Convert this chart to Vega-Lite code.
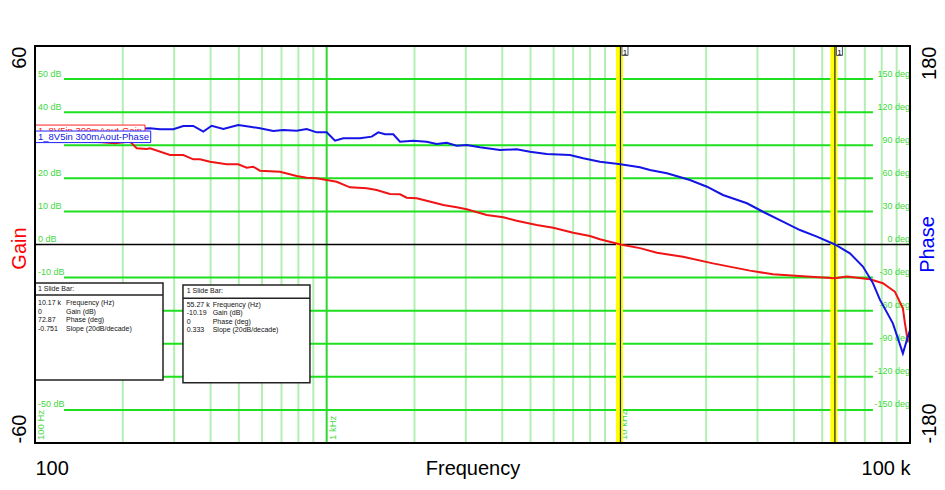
{
  "$schema": "https://vega.github.io/schema/vega-lite/v6.json",
  "width": 875,
  "height": 397,
  "autosize": "none",
  "padding": {"left": 35, "top": 46, "right": 35, "bottom": 47},
  "background": "white",
  "config": {
    "view": {"stroke": null},
    "font": "Liberation Sans",
    "axis": {"labelFont": "Liberation Sans", "titleFont": "Liberation Sans", "titleFontWeight": "normal", "labelColor": "black"}
  },
  "datasets": {
    "gain": [
      {"freq": 100, "gain": 31.8}, {"freq": 140, "gain": 31.3}, {"freq": 170, "gain": 30.9}, {"freq": 188.1, "gain": 30.6},
      {"freq": 211.7, "gain": 31.1}, {"freq": 223.2, "gain": 29.1}, {"freq": 241.5, "gain": 28.9}, {"freq": 247.9, "gain": 29.08},
      {"freq": 290.3, "gain": 27.05}, {"freq": 322.4, "gain": 27.05}, {"freq": 348.9, "gain": 25.75}, {"freq": 367.9, "gain": 25.75},
      {"freq": 398.1, "gain": 25.03}, {"freq": 454.1, "gain": 24.24}, {"freq": 497.6, "gain": 24.24}, {"freq": 531.8, "gain": 23.21},
      {"freq": 560.2, "gain": 23.52}, {"freq": 590.6, "gain": 22.31}, {"freq": 691.6, "gain": 22.0}, {"freq": 789, "gain": 20.71},
      {"freq": 854, "gain": 20.19}, {"freq": 924.1, "gain": 20.0}, {"freq": 1000, "gain": 19.5}, {"freq": 1082, "gain": 18.98},
      {"freq": 1202, "gain": 17.29}, {"freq": 1371, "gain": 16.99}, {"freq": 1484, "gain": 16.47}, {"freq": 1648, "gain": 15.26},
      {"freq": 1784, "gain": 15.17}, {"freq": 1881, "gain": 14.15}, {"freq": 2035, "gain": 13.96}, {"freq": 2202, "gain": 13.24},
      {"freq": 2511, "gain": 11.94}, {"freq": 2791, "gain": 11.24}, {"freq": 3020, "gain": 10.64}, {"freq": 3537, "gain": 8.92},
      {"freq": 4031, "gain": 8.22}, {"freq": 4481, "gain": 7.19}, {"freq": 5248, "gain": 5.89}, {"freq": 5981, "gain": 5.08},
      {"freq": 7004, "gain": 3.57}, {"freq": 7991, "gain": 2.57}, {"freq": 8647, "gain": 1.57}, {"freq": 10170, "gain": 0},
      {"freq": 11858, "gain": -1.1}, {"freq": 13562, "gain": -2.5}, {"freq": 16651, "gain": -3.7}, {"freq": 21101, "gain": -5.7},
      {"freq": 28262, "gain": -7.9}, {"freq": 33884, "gain": -9.0}, {"freq": 44310, "gain": -9.7}, {"freq": 55270, "gain": -10.19},
      {"freq": 60770, "gain": -9.7}, {"freq": 72880, "gain": -10.5}, {"freq": 80750, "gain": -11.7}, {"freq": 88800, "gain": -14.3},
      {"freq": 94540, "gain": -19.3}, {"freq": 96040, "gain": -23.7}, {"freq": 98360, "gain": -29.4}
    ],
    "phase": [
      {"freq": 100, "phase": 104}, {"freq": 120, "phase": 104.5}, {"freq": 142.7, "phase": 104.5}, {"freq": 162.7, "phase": 106.3},
      {"freq": 188.1, "phase": 106.3}, {"freq": 206.3, "phase": 104.5}, {"freq": 247.9, "phase": 105.4}, {"freq": 268.2, "phase": 104.5},
      {"freq": 298, "phase": 104.5}, {"freq": 322.4, "phase": 107.5}, {"freq": 348.9, "phase": 107.5}, {"freq": 377.6, "phase": 102.3},
      {"freq": 403.4, "phase": 107.7}, {"freq": 442.1, "phase": 104.7}, {"freq": 497.6, "phase": 108.4}, {"freq": 546, "phase": 106.8},
      {"freq": 590.6, "phase": 105.4}, {"freq": 656.1, "phase": 102.9}, {"freq": 709.9, "phase": 103.8}, {"freq": 789, "phase": 103.2},
      {"freq": 854, "phase": 104.7}, {"freq": 924.1, "phase": 101.7}, {"freq": 1000, "phase": 101.7}, {"freq": 1068, "phase": 94.1},
      {"freq": 1140, "phase": 96.3}, {"freq": 1301, "phase": 96.3}, {"freq": 1427, "phase": 97.8}, {"freq": 1503, "phase": 101.7},
      {"freq": 1585, "phase": 99.9}, {"freq": 1692, "phase": 99.9}, {"freq": 1784, "phase": 93.2}, {"freq": 1981, "phase": 94.1},
      {"freq": 2202, "phase": 93.2}, {"freq": 2383, "phase": 91.1}, {"freq": 2579, "phase": 92.3}, {"freq": 2791, "phase": 89.6},
      {"freq": 3020, "phase": 90.2}, {"freq": 3354, "phase": 88.1}, {"freq": 3928, "phase": 85.7}, {"freq": 4481, "phase": 86.3},
      {"freq": 4977, "phase": 84.2}, {"freq": 5679, "phase": 82.1}, {"freq": 6826, "phase": 81.2}, {"freq": 7579, "phase": 78.2},
      {"freq": 8647, "phase": 75.1}, {"freq": 10170, "phase": 72.87}, {"freq": 11858, "phase": 70.0}, {"freq": 12832, "phase": 67.6},
      {"freq": 14672, "phase": 64.6}, {"freq": 17602, "phase": 58.5}, {"freq": 20131, "phase": 52.4}, {"freq": 22839, "phase": 44.9},
      {"freq": 27606, "phase": 37.4}, {"freq": 31314, "phase": 29.7}, {"freq": 36664, "phase": 20.7}, {"freq": 41937, "phase": 13.1},
      {"freq": 47951, "phase": 7.1}, {"freq": 55270, "phase": 0}, {"freq": 62230, "phase": -8}, {"freq": 68960, "phase": -20},
      {"freq": 74620, "phase": -35}, {"freq": 78850, "phase": -50}, {"freq": 87360, "phase": -71.5}, {"freq": 94540, "phase": -98.7},
      {"freq": 97570, "phase": -86.6}, {"freq": 100000, "phase": -77.5}
    ],
    "grid": [
      {"gain": 50, "gainLabel": "50 dB", "phase": 150, "phaseLabel": "150 deg"},
      {"gain": 40, "gainLabel": "40 dB", "phase": 120, "phaseLabel": "120 deg"},
      {"gain": 30, "gainLabel": "30 dB", "phase": 90, "phaseLabel": "90 deg"},
      {"gain": 20, "gainLabel": "20 dB", "phase": 60, "phaseLabel": "60 deg"},
      {"gain": 10, "gainLabel": "10 dB", "phase": 30, "phaseLabel": "30 deg"},
      {"gain": 0, "gainLabel": "0 dB", "phase": 0, "phaseLabel": "0 deg"},
      {"gain": -10, "gainLabel": "-10 dB", "phase": -30, "phaseLabel": "-30 deg"},
      {"gain": -20, "gainLabel": "-20 dB", "phase": -60, "phaseLabel": "-60 deg"},
      {"gain": -30, "gainLabel": "-30 dB", "phase": -90, "phaseLabel": "-90 deg"},
      {"gain": -40, "gainLabel": "-40 dB", "phase": -120, "phaseLabel": "-120 deg"},
      {"gain": -50, "gainLabel": "-50 dB", "phase": -150, "phaseLabel": "-150 deg"}
    ],
    "vgrid": [
      {"freq": 100, "major": true}, {"freq": 200, "major": false}, {"freq": 300, "major": false}, {"freq": 400, "major": false},
      {"freq": 500, "major": false}, {"freq": 600, "major": false}, {"freq": 700, "major": false}, {"freq": 800, "major": false},
      {"freq": 900, "major": false}, {"freq": 1000, "major": true}, {"freq": 2000, "major": false}, {"freq": 3000, "major": false},
      {"freq": 4000, "major": false}, {"freq": 5000, "major": false}, {"freq": 6000, "major": false}, {"freq": 7000, "major": false},
      {"freq": 8000, "major": false}, {"freq": 9000, "major": false}, {"freq": 10000, "major": true}, {"freq": 20000, "major": false},
      {"freq": 30000, "major": false}, {"freq": 40000, "major": false}, {"freq": 50000, "major": false}, {"freq": 60000, "major": false},
      {"freq": 70000, "major": false}, {"freq": 80000, "major": false}, {"freq": 90000, "major": false}, {"freq": 100000, "major": true}
    ],
    "freqLabels": [
      {"freq": 100, "label": "100 Hz"},
      {"freq": 1000, "label": "1 kHz"},
      {"freq": 10000, "label": "10 kHz"}
    ],
    "bars": [
      {"freq": 10170},
      {"freq": 55270}
    ],
    "one": [{}]
  },
  "layer": [
    {
      "data": {"name": "gain"},
      "mark": {"type": "line", "color": "#f01414", "strokeWidth": 2, "opacity": 0},
      "encoding": {
        "x": {
          "field": "freq", "type": "quantitative",
          "scale": {"type": "log", "domain": [100, 100000], "nice": false},
          "axis": {
            "values": [100, 100000],
            "grid": false,
            "ticks": false,
            "tickSize": 0,
            "domain": false,
            "labelExpr": "datum.value == 100 ? '100' : '100 k'",
            "labelFlush": true,
            "labelOverlap": false,
            "labelFontSize": 20,
            "labelPadding": 31,
            "labelBaseline": "alphabetic",
            "labelAngle": 0,
            "title": "Frequency",
            "titleFontSize": 20,
            "titleColor": "black",
            "titleY": 31,
            "titleBaseline": "alphabetic"
          }
        },
        "y": {
          "field": "gain", "type": "quantitative",
          "scale": {"domain": [-60, 60], "nice": false, "zero": false},
          "axis": {
            "orient": "left",
            "values": [-60, 60],
            "grid": false,
            "ticks": false,
            "tickSize": 0,
            "domain": false,
            "labelExpr": "datum.value > 0 ? '60' : '-60'",
            "labelAngle": 270,
            "labelFontSize": 20,
            "labelPadding": 10,
            "labelBaseline": "alphabetic",
            "labelAlign": {"condition": {"test": "datum.value > 0", "value": "right"}, "value": "left"},
            "labelOverlap": false,
            "labelFlush": false,
            "title": "Gain",
            "titleColor": "#ff0000",
            "titleFontSize": 20,
            "titleAngle": 270,
            "titleX": -10,
            "titleY": 202,
            "titleAlign": "center",
            "titleBaseline": "alphabetic"
          }
        }
      }
    },
    {
      "data": {"name": "vgrid"},
      "mark": {"type": "rule", "strokeWidth": 2},
      "encoding": {
        "x": {"field": "freq", "type": "quantitative", "scale": {"type": "log", "domain": [100, 100000], "nice": false}},
        "y": {"datum": -60, "type": "quantitative", "scale": {"domain": [-60, 60], "nice": false, "zero": false}, "axis": null},
        "y2": {"datum": 60},
        "color": {"field": "major", "type": "nominal", "scale": {"domain": [true, false], "range": ["#2ed82e", "#b3efb3"]}, "legend": null}
      }
    },
    {
      "data": {"name": "grid"},
      "transform": [{"filter": "datum.gain != 0"}],
      "mark": {"type": "rule", "color": "#1ee01e", "strokeWidth": 2},
      "encoding": {
        "x": {"datum": 125.7, "type": "quantitative", "scale": {"type": "log", "domain": [100, 100000], "nice": false}},
        "x2": {"datum": 74620},
        "y": {"field": "gain", "type": "quantitative", "scale": {"domain": [-60, 60], "nice": false, "zero": false}, "axis": null}
      }
    },
    {
      "data": {"name": "one"},
      "mark": {"type": "rule", "color": "black", "strokeWidth": 1.3},
      "encoding": {
        "x": {"datum": 100, "type": "quantitative", "scale": {"type": "log", "domain": [100, 100000], "nice": false}},
        "x2": {"datum": 100000},
        "y": {"datum": 0, "type": "quantitative", "scale": {"domain": [-60, 60], "nice": false, "zero": false}, "axis": null}
      }
    },
    {
      "data": {"name": "grid"},
      "mark": {"type": "text", "align": "left", "baseline": "alphabetic", "dx": 3, "dy": -2.5, "fontSize": 9, "color": "#3fd83f", "font": "Liberation Sans"},
      "encoding": {
        "x": {"datum": 100, "type": "quantitative", "scale": {"type": "log", "domain": [100, 100000], "nice": false}},
        "y": {"field": "gain", "type": "quantitative", "scale": {"domain": [-60, 60], "nice": false, "zero": false}, "axis": null},
        "text": {"field": "gainLabel"}
      }
    },
    {
      "data": {"name": "grid"},
      "mark": {"type": "text", "align": "right", "baseline": "alphabetic", "dx": 0, "dy": -2.5, "fontSize": 9, "color": "#3fd83f", "font": "Liberation Sans"},
      "encoding": {
        "x": {"datum": 100000, "type": "quantitative", "scale": {"type": "log", "domain": [100, 100000], "nice": false}},
        "y": {"field": "phase", "type": "quantitative", "scale": {"domain": [-180, 180], "nice": false, "zero": false}, "axis": null},
        "text": {"field": "phaseLabel"}
      }
    },
    {
      "data": {"name": "freqLabels"},
      "mark": {"type": "text", "angle": 270, "align": "left", "baseline": "alphabetic", "dx": 3, "dy": 9, "fontSize": 9.5, "color": "#3fd83f", "font": "Liberation Sans"},
      "encoding": {
        "x": {"field": "freq", "type": "quantitative", "scale": {"type": "log", "domain": [100, 100000], "nice": false}},
        "y": {"datum": -60, "type": "quantitative", "scale": {"domain": [-60, 60], "nice": false, "zero": false}, "axis": null},
        "text": {"field": "label"}
      }
    },
    {
      "data": {"name": "bars"},
      "mark": {"type": "rule", "color": "#ffff00", "strokeWidth": 7, "xOffset": -1},
      "encoding": {
        "x": {"field": "freq", "type": "quantitative", "scale": {"type": "log", "domain": [100, 100000], "nice": false}},
        "y": {"datum": -60, "type": "quantitative", "scale": {"domain": [-60, 60], "nice": false, "zero": false}, "axis": null},
        "y2": {"datum": 60}
      }
    },
    {
      "data": {"name": "bars"},
      "mark": {"type": "rule", "color": "#222222", "strokeWidth": 1.2},
      "encoding": {
        "x": {"field": "freq", "type": "quantitative", "scale": {"type": "log", "domain": [100, 100000], "nice": false}},
        "y": {"datum": -60, "type": "quantitative", "scale": {"domain": [-60, 60], "nice": false, "zero": false}, "axis": null},
        "y2": {"datum": 60}
      }
    },
    {
      "data": {"name": "bars"},
      "mark": {"type": "point", "shape": "M-0.667,-1H0.667V1H-0.667Z", "size": 81, "filled": true, "fill": "white", "stroke": "#555555", "strokeWidth": 1, "opacity": 1, "xOffset": 4.5, "yOffset": 5},
      "encoding": {
        "x": {"field": "freq", "type": "quantitative", "scale": {"type": "log", "domain": [100, 100000], "nice": false}},
        "y": {"datum": 60, "type": "quantitative", "scale": {"domain": [-60, 60], "nice": false, "zero": false}, "axis": null}
      }
    },
    {
      "data": {"name": "bars"},
      "mark": {"type": "text", "align": "center", "baseline": "alphabetic", "dx": 4.5, "dy": 8.5, "fontSize": 8, "color": "black", "font": "Liberation Sans"},
      "encoding": {
        "x": {"field": "freq", "type": "quantitative", "scale": {"type": "log", "domain": [100, 100000], "nice": false}},
        "y": {"datum": 60, "type": "quantitative", "scale": {"domain": [-60, 60], "nice": false, "zero": false}, "axis": null},
        "text": {"value": "1"}
      }
    },
    {
      "data": {"name": "one"},
      "mark": {"type": "rect", "fill": "white", "stroke": "#222222", "strokeWidth": 1.5},
      "encoding": {
        "x": {"datum": 100, "type": "quantitative", "scale": {"type": "log", "domain": [100, 100000], "nice": false}},
        "x2": {"datum": 274.7},
        "y": {"datum": -11.64, "type": "quantitative", "scale": {"domain": [-60, 60], "nice": false, "zero": false}, "axis": null},
        "y2": {"datum": -40.96}
      }
    },
    {
      "data": {"name": "one"},
      "mark": {"type": "rule", "color": "#222222", "strokeWidth": 1.5},
      "encoding": {
        "x": {"datum": 100, "type": "quantitative", "scale": {"type": "log", "domain": [100, 100000], "nice": false}},
        "x2": {"datum": 274.7},
        "y": {"datum": -15.26, "type": "quantitative", "scale": {"domain": [-60, 60], "nice": false, "zero": false}, "axis": null}
      }
    },
    {
      "data": {"name": "one"},
      "mark": {"type": "text", "align": "left", "baseline": "alphabetic", "fontSize": 7, "color": "#111111", "font": "Liberation Sans"},
      "encoding": {
        "x": {"datum": 102.4, "type": "quantitative", "scale": {"type": "log", "domain": [100, 100000], "nice": false}},
        "y": {"datum": -14.06, "type": "quantitative", "scale": {"domain": [-60, 60], "nice": false, "zero": false}, "axis": null},
        "text": {"value": "1  Slide Bar:"}
      }
    },
    {
      "data": {"name": "one"},
      "mark": {"type": "text", "align": "left", "baseline": "alphabetic", "fontSize": 7, "color": "#111111", "font": "Liberation Sans", "lineBreak": "\n", "lineHeight": 8.5},
      "encoding": {
        "x": {"datum": 102.4, "type": "quantitative", "scale": {"type": "log", "domain": [100, 100000], "nice": false}},
        "y": {"datum": -18.29, "type": "quantitative", "scale": {"domain": [-60, 60], "nice": false, "zero": false}, "axis": null},
        "text": {"value": "10.17 k\n0\n72.87\n-0.751"}
      }
    },
    {
      "data": {"name": "one"},
      "mark": {"type": "text", "align": "left", "baseline": "alphabetic", "fontSize": 7, "color": "#111111", "font": "Liberation Sans", "lineBreak": "\n", "lineHeight": 8.5},
      "encoding": {
        "x": {"datum": 127.7, "type": "quantitative", "scale": {"type": "log", "domain": [100, 100000], "nice": false}},
        "y": {"datum": -18.29, "type": "quantitative", "scale": {"domain": [-60, 60], "nice": false, "zero": false}, "axis": null},
        "text": {"value": "Frequency (Hz)\nGain (dB)\nPhase (deg)\nSlope (20dB/decade)"}
      }
    },
    {
      "data": {"name": "one"},
      "mark": {"type": "rect", "fill": "white", "stroke": "#222222", "strokeWidth": 1.5},
      "encoding": {
        "x": {"datum": 321.6, "type": "quantitative", "scale": {"type": "log", "domain": [100, 100000], "nice": false}},
        "x2": {"datum": 876.4},
        "y": {"datum": -12.24, "type": "quantitative", "scale": {"domain": [-60, 60], "nice": false, "zero": false}, "axis": null},
        "y2": {"datum": -41.77}
      }
    },
    {
      "data": {"name": "one"},
      "mark": {"type": "rule", "color": "#222222", "strokeWidth": 1.5},
      "encoding": {
        "x": {"datum": 321.6, "type": "quantitative", "scale": {"type": "log", "domain": [100, 100000], "nice": false}},
        "x2": {"datum": 876.4},
        "y": {"datum": -16.26, "type": "quantitative", "scale": {"domain": [-60, 60], "nice": false, "zero": false}, "axis": null}
      }
    },
    {
      "data": {"name": "one"},
      "mark": {"type": "text", "align": "left", "baseline": "alphabetic", "fontSize": 7, "color": "#111111", "font": "Liberation Sans"},
      "encoding": {
        "x": {"datum": 331.3, "type": "quantitative", "scale": {"type": "log", "domain": [100, 100000], "nice": false}},
        "y": {"datum": -14.57, "type": "quantitative", "scale": {"domain": [-60, 60], "nice": false, "zero": false}, "axis": null},
        "text": {"value": "1  Slide Bar:"}
      }
    },
    {
      "data": {"name": "one"},
      "mark": {"type": "text", "align": "left", "baseline": "alphabetic", "fontSize": 7, "color": "#111111", "font": "Liberation Sans", "lineBreak": "\n", "lineHeight": 8.5},
      "encoding": {
        "x": {"datum": 331.3, "type": "quantitative", "scale": {"type": "log", "domain": [100, 100000], "nice": false}},
        "y": {"datum": -18.8, "type": "quantitative", "scale": {"domain": [-60, 60], "nice": false, "zero": false}, "axis": null},
        "text": {"value": "55.27 k\n-10.19\n0\n0.333"}
      }
    },
    {
      "data": {"name": "one"},
      "mark": {"type": "text", "align": "left", "baseline": "alphabetic", "fontSize": 7, "color": "#111111", "font": "Liberation Sans", "lineBreak": "\n", "lineHeight": 8.5},
      "encoding": {
        "x": {"datum": 406.6, "type": "quantitative", "scale": {"type": "log", "domain": [100, 100000], "nice": false}},
        "y": {"datum": -18.8, "type": "quantitative", "scale": {"domain": [-60, 60], "nice": false, "zero": false}, "axis": null},
        "text": {"value": "Frequency (Hz)\nGain (dB)\nPhase (deg)\nSlope (20dB/decade)"}
      }
    },
    {
      "data": {"name": "gain"},
      "mark": {"type": "line", "color": "#f01414", "strokeWidth": 2},
      "encoding": {
        "x": {"field": "freq", "type": "quantitative", "scale": {"type": "log", "domain": [100, 100000], "nice": false}},
        "y": {"field": "gain", "type": "quantitative", "scale": {"domain": [-60, 60], "nice": false, "zero": false}, "axis": null}
      }
    },
    {
      "data": {"name": "phase"},
      "mark": {"type": "line", "color": "#1414e6", "strokeWidth": 2},
      "encoding": {
        "x": {"field": "freq", "type": "quantitative", "scale": {"type": "log", "domain": [100, 100000], "nice": false}},
        "y": {
          "field": "phase", "type": "quantitative",
          "scale": {"domain": [-180, 180], "nice": false, "zero": false},
          "axis": {
            "orient": "right",
            "values": [-180, 180],
            "grid": false,
            "ticks": false,
            "tickSize": 0,
            "domain": false,
            "labelExpr": "datum.value > 0 ? '180' : '-180'",
            "labelAngle": 270,
            "labelFontSize": 20,
            "labelPadding": 25,
            "labelBaseline": "alphabetic",
            "labelAlign": {"condition": {"test": "datum.value > 0", "value": "right"}, "value": "left"},
            "labelOverlap": false,
            "labelFlush": false,
            "title": "Phase",
            "titleColor": "#0000ff",
            "titleFontSize": 20,
            "titleAngle": 270,
            "titleX": 23,
            "titleY": 198,
            "titleAlign": "center",
            "titleBaseline": "alphabetic"
          }
        }
      }
    },
    {
      "data": {"name": "one"},
      "mark": {"type": "rect", "fill": "white", "stroke": "#ff2020", "strokeWidth": 1},
      "encoding": {
        "x": {"datum": 100, "type": "quantitative", "scale": {"type": "log", "domain": [100, 100000], "nice": false}},
        "x2": {"datum": 238.3},
        "y": {"datum": 36.1, "type": "quantitative", "scale": {"domain": [-60, 60], "nice": false, "zero": false}, "axis": null},
        "y2": {"datum": 33.4}
      }
    },
    {
      "data": {"name": "one"},
      "mark": {"type": "text", "align": "left", "baseline": "alphabetic", "fontSize": 9.5, "color": "#ff2020", "font": "Liberation Sans"},
      "encoding": {
        "x": {"datum": 102.4, "type": "quantitative", "scale": {"type": "log", "domain": [100, 100000], "nice": false}},
        "y": {"datum": 33.55, "type": "quantitative", "scale": {"domain": [-60, 60], "nice": false, "zero": false}, "axis": null},
        "text": {"value": "1_8V5in 300mAout-Gain"}
      }
    },
    {
      "data": {"name": "one"},
      "mark": {"type": "rect", "fill": "white", "stroke": "#2020ff", "strokeWidth": 1},
      "encoding": {
        "x": {"datum": 100, "type": "quantitative", "scale": {"type": "log", "domain": [100, 100000], "nice": false}},
        "x2": {"datum": 249.3},
        "y": {"datum": 34.3, "type": "quantitative", "scale": {"domain": [-60, 60], "nice": false, "zero": false}, "axis": null},
        "y2": {"datum": 30.8}
      }
    },
    {
      "data": {"name": "one"},
      "mark": {"type": "text", "align": "left", "baseline": "alphabetic", "fontSize": 9.5, "color": "#1414e6", "font": "Liberation Sans"},
      "encoding": {
        "x": {"datum": 102.4, "type": "quantitative", "scale": {"type": "log", "domain": [100, 100000], "nice": false}},
        "y": {"datum": 31.56, "type": "quantitative", "scale": {"domain": [-60, 60], "nice": false, "zero": false}, "axis": null},
        "text": {"value": "1_8V5in 300mAout-Phase"}
      }
    },
    {
      "data": {"name": "one"},
      "mark": {"type": "rect", "fill": null, "filled": false, "stroke": "black", "strokeWidth": 2},
      "encoding": {
        "x": {"datum": 100, "type": "quantitative", "scale": {"type": "log", "domain": [100, 100000], "nice": false}},
        "x2": {"datum": 100000},
        "y": {"datum": -60, "type": "quantitative", "scale": {"domain": [-60, 60], "nice": false, "zero": false}, "axis": null},
        "y2": {"datum": 60}
      }
    }
  ],
  "resolve": {"scale": {"y": "independent"}, "axis": {"y": "independent"}}
}
